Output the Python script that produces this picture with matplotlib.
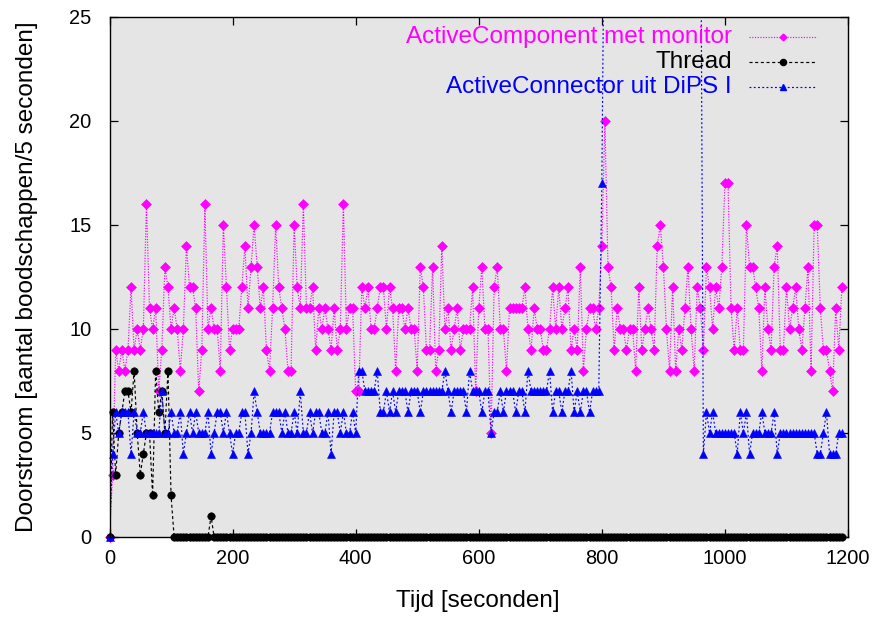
import numpy as np
import matplotlib
matplotlib.use("Agg")
import matplotlib.pyplot as plt
from matplotlib.lines import Line2D

plt.rcParams["font.family"] = ["Liberation Sans", "DejaVu Sans"]

SAMPLE_SECONDS = 5  # one sample every 5 seconds

# messages per 5-second window, ActiveComponent with monitor
active_component = [
    0, 3,
    9, 8, 9, 8, 9, 12, 9, 10, 9, 10, 16, 11, 10, 11, 7, 9, 13, 12, 10, 11,
    10, 8, 10, 14, 12, 12, 11, 7, 9, 16, 10, 11, 10, 10, 8, 15, 12, 9,
    10, 10, 10, 12, 14, 11, 13, 15, 13, 11, 12, 9, 8, 11, 15, 12, 11, 10,
    8, 8, 15, 12, 11, 16, 11, 11, 12, 9, 11, 10, 11, 10, 9, 11, 9, 10, 16, 10,
    11, 11, 7,
    7, 12, 11, 12, 10, 10, 11, 12, 12, 10, 12, 11, 8, 11, 11, 10, 11, 10,
    10, 8, 13, 12, 9, 9, 13, 8, 9, 14, 10, 11, 9, 10, 11, 9, 10, 10, 10, 12,
    7, 11, 13,
    10, 10, 5, 12, 13, 10, 10, 8, 11, 11, 11, 11, 11, 12, 10, 9, 11, 10, 10,
    9, 9, 10, 12, 10, 12, 10, 11, 12, 9, 10, 9, 13, 8, 10, 11, 11, 10, 11, 14,
    20, 13, 12, 9, 11, 10, 10, 9, 10, 10, 8, 12, 9, 10, 11, 10, 9, 14, 15, 13,
    10, 8, 12, 8, 10, 9, 11, 13, 10, 8, 12, 11, 9, 13, 12, 10, 12, 11, 13, 17,
    17,
    11, 9, 11, 9, 9, 15, 13, 13, 12, 11, 8, 12, 10, 9, 13, 14, 9, 9, 12, 10,
    11, 12, 10, 9, 11, 13, 8, 15, 15, 11, 9, 9, 8, 7, 11, 9, 12,
]

# messages per 5-second window, plain Thread
thread = [
    0, 6, 3, 5, 6, 7, 7, 6, 8, 5, 3, 4, 5, 5, 2, 8, 6, 7, 5, 8,
    2, 0, 0, 0, 0, 0, 0, 0, 0, 0, 0, 0, 0, 1, 0, 0, 0, 0, 0, 0,
    0, 0, 0, 0, 0, 0, 0, 0, 0, 0, 0, 0, 0, 0, 0, 0, 0, 0, 0, 0,
    0, 0, 0, 0, 0, 0, 0, 0, 0, 0, 0, 0, 0, 0, 0, 0, 0, 0, 0, 0,
    0, 0, 0, 0, 0, 0, 0, 0, 0, 0, 0, 0, 0, 0, 0, 0, 0, 0, 0, 0,
    0, 0, 0, 0, 0, 0, 0, 0, 0, 0, 0, 0, 0, 0, 0, 0, 0, 0, 0, 0,
    0, 0, 0, 0, 0, 0, 0, 0, 0, 0, 0, 0, 0, 0, 0, 0, 0, 0, 0, 0,
    0, 0, 0, 0, 0, 0, 0, 0, 0, 0, 0, 0, 0, 0, 0, 0, 0, 0, 0, 0,
    0, 0, 0, 0, 0, 0, 0, 0, 0, 0, 0, 0, 0, 0, 0, 0, 0, 0, 0, 0,
    0, 0, 0, 0, 0, 0, 0, 0, 0, 0, 0, 0, 0, 0, 0, 0, 0, 0, 0, 0,
    0, 0, 0, 0, 0, 0, 0, 0, 0, 0, 0, 0, 0, 0, 0, 0, 0, 0, 0, 0,
    0, 0, 0, 0, 0, 0, 0, 0, 0, 0, 0, 0, 0, 0, 0, 0, 0, 0, 0,
]

# messages per 5-second window, ActiveConnector from DiPS I
# (the burst between ~800 s and ~960 s runs far above the plotted range)
active_connector = [
    0, 4, 6, 5, 6, 6, 6, 4, 6, 5, 5, 6, 5, 5, 5, 5, 5, 7, 5, 5,
    6, 5, 5, 6, 4, 5, 6, 5, 6, 5, 5, 5, 6, 4, 5, 6, 6, 5, 6, 5,
    4, 5, 5, 6, 6, 4, 5, 7, 6, 5, 5, 5, 5, 6, 6, 6, 5, 6, 5, 5,
    6, 5, 7, 5, 5, 6, 5, 6, 6, 5, 5, 6, 4, 6, 6, 5, 6, 5, 5, 6,
    5, 8, 8, 7, 7, 7, 7, 8, 6, 6, 7, 6, 7, 6, 7, 7, 7, 6, 7, 7,
    7, 6, 7, 7, 7, 7, 7, 7, 7, 8, 7, 6, 7, 7, 7, 7, 6, 8, 7, 7,
    7, 6, 7, 7, 5, 6, 6, 7, 6, 7, 7, 7, 6, 7, 7, 6, 8, 7, 7, 7,
    7, 7, 7, 8, 6, 7, 7, 6, 7, 7, 8, 6, 7, 6, 7, 7, 6, 7, 7, 7,
    17, 34, 36, 33, 35, 38, 34, 36, 33, 35, 37, 34, 36, 35, 33, 36, 34, 35, 37, 34,
    36, 33, 35, 34, 36, 35, 33, 34, 36, 35, 34, 33, 35, 4, 6, 5, 6, 5, 5, 5,
    5, 5, 5, 5, 4, 6, 5, 6, 4, 5, 5, 5, 6, 5, 5, 5, 6, 4, 5, 5,
    5, 5, 5, 5, 5, 5, 5, 5, 5, 5, 4, 4, 5, 6, 4, 4, 4, 5, 5,
]

x_ticks = [0, 200, 400, 600, 800, 1000, 1200]
y_ticks = [0, 5, 10, 15, 20, 25]
x_label = "Tijd [seconden]"
y_label = "Doorstroom [aantal boodschappen/5 seconden]"

series = [
    dict(label="ActiveComponent met monitor", values=active_component,
         color="#ff00ff", marker="D", ms=4.6, ls=(0, (1, 1.3)), leg_ms=3.4),
    dict(label="Thread", values=thread,
         color="#000000", marker="o", ms=5.4, ls=(0, (2.6, 2.2)), leg_ms=4.4),
    dict(label="ActiveConnector uit DiPS I", values=active_connector,
         color="#0000ff", marker="^", ms=5.6, ls=(0, (1.6, 2.0)), leg_ms=4.2),
]

W, H = 881, 617
LEFT, RIGHT, TOP, BOTTOM = 109.5, 848.0, 17.0, 537.0
Y_MAX = 25

fig = plt.figure(figsize=(W / 100, H / 100), dpi=100)
fig.patch.set_facecolor("white")
ax = fig.add_axes([LEFT / W, 1 - BOTTOM / H, (RIGHT - LEFT) / W, (BOTTOM - TOP) / H])
ax.set_facecolor("#e5e5e5")
ax.set_xlim(0, 1200)
ax.set_ylim(0, Y_MAX)

for z, s in enumerate(series):
    vals = np.asarray(s["values"], dtype=float)
    t = np.arange(len(vals)) * SAMPLE_SECONDS
    ax.plot(t, vals, color=s["color"], lw=0.85, ls=s["ls"], zorder=2 + z)
    shown = np.where(vals <= Y_MAX, vals, np.nan)
    ax.plot(t, shown, ls="none", marker=s["marker"], ms=s["ms"],
            color=s["color"], mec=s["color"], mew=0.4, clip_on=False,
            zorder=2.5 + z)

ax.set_xticks(x_ticks)
ax.set_yticks(y_ticks)
ax.set_xticklabels([str(v) for v in x_ticks])
ax.set_yticklabels([str(v) for v in y_ticks])
ax.tick_params(direction="in", length=6, width=0.9, top=True, right=True,
               labelsize=14.4, colors="black")
ax.tick_params(axis="y", pad=13)
ax.tick_params(axis="x", pad=9)
for sp in ax.spines.values():
    sp.set_linewidth(1.0)
    sp.set_color("black")
    sp.set_zorder(10)

ax.set_xlabel(x_label, fontsize=17.5, va="center", ha="center")
ax.xaxis.set_label_coords((478 - LEFT) / (RIGHT - LEFT), (BOTTOM - 601) / (BOTTOM - TOP))
ax.set_ylabel(y_label, fontsize=17.5, va="center", ha="center")
ax.yaxis.set_label_coords((27 - LEFT) / (RIGHT - LEFT), (BOTTOM - 277) / (BOTTOM - TOP))


def ax_xy(px, py):
    return (px - LEFT) / (RIGHT - LEFT), (BOTTOM - py) / (BOTTOM - TOP)


# gnuplot-style key: right-aligned coloured text, sample line with a marker
for i, s in enumerate(series):
    py = 37 + 25 * i
    tx, ty = ax_xy(732, py)
    ax.text(tx, ty, s["label"], color=s["color"], fontsize=17.5,
            ha="right", va="center", transform=ax.transAxes, zorder=20)
    x0, yy = ax_xy(749, py)
    x1, _ = ax_xy(817, py)
    xm, _ = ax_xy(783, py)
    ax.add_line(Line2D([x0, x1], [yy, yy], transform=ax.transAxes,
                       color=s["color"], lw=0.85, ls=s["ls"], zorder=20))
    ax.add_line(Line2D([xm], [yy], transform=ax.transAxes, ls="none",
                       marker=s["marker"], ms=s["leg_ms"], color=s["color"],
                       zorder=21))

fig.savefig("out.png", dpi=100)
